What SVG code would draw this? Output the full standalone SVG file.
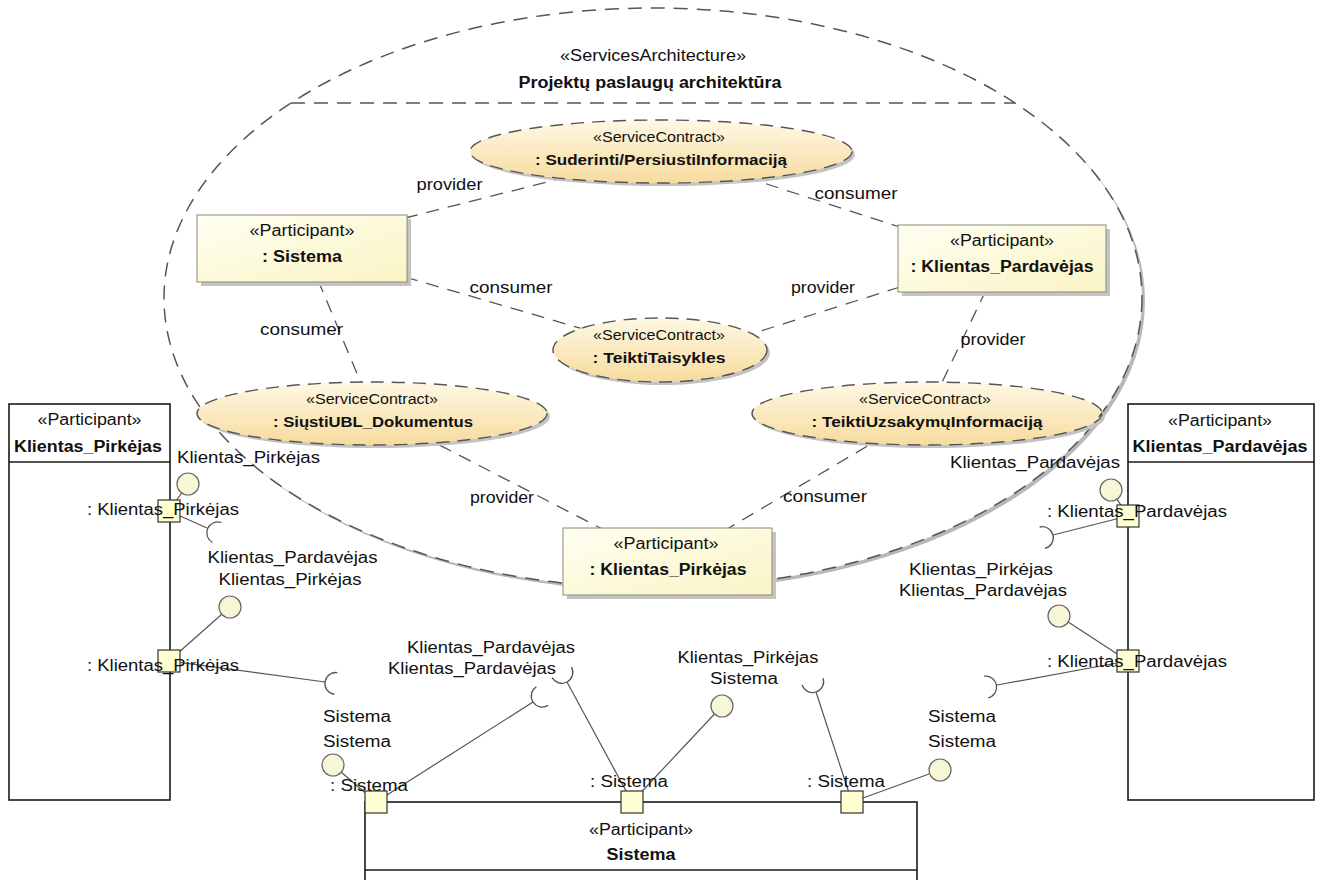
<svg xmlns="http://www.w3.org/2000/svg" width="1323" height="880" viewBox="0 0 1323 880">
  <defs>
    <linearGradient id="contractFill" x1="0" y1="0" x2="0" y2="1">
      <stop offset="0" stop-color="#FFF8E4"/>
      <stop offset="1" stop-color="#F6DB9E"/>
    </linearGradient>
    <linearGradient id="partFill" x1="0" y1="0" x2="1" y2="1">
      <stop offset="0" stop-color="#FFFFF2"/>
      <stop offset="1" stop-color="#FAF4C4"/>
    </linearGradient>
    <clipPath id="uzsakymuClip">
      <ellipse cx="927" cy="413.5" rx="175" ry="31.5"/>
    </clipPath>
  </defs>
  <style>
    text { font-family: "Liberation Sans", Arial, sans-serif; fill: #111; }
    .r { font-size: 16px; }
    .b { font-size: 16px; font-weight: bold; }
    .rs { font-size: 14px; }
    .bs { font-size: 14px; font-weight: bold; }
    .mid { text-anchor: middle; }
    .shadow { fill: #c4c4c4; }
    .contract { fill: url(#contractFill); stroke: #555; stroke-width: 1.4; stroke-dasharray: 13 8; }
    .part { fill: url(#partFill); stroke: #8a8a7a; stroke-width: 1; }
    .outer { fill: #fff; stroke: #1a1a1a; stroke-width: 1.6; }
    .frame { fill: none; stroke: #555; stroke-width: 1.5; stroke-dasharray: 14 9; }
    .role { fill: none; stroke: #555; stroke-width: 1.3; stroke-dasharray: 13 9; }
    .wire { fill: none; stroke: #555; stroke-width: 1.2; }
    .ball { fill: #F7F7D8; stroke: #666; stroke-width: 1.2; }
    .socket { fill: none; stroke: #555; stroke-width: 1.3; }
    .port { fill: #FFFFD2; stroke: #333; stroke-width: 1.2; }
  </style>

  <!-- services architecture collaboration -->
  <g id="projektu-paslaugu-architektura">
    <ellipse cx="656" cy="301" rx="489" ry="290" fill="#b8b8b8"/>
    <ellipse cx="653" cy="298" rx="489" ry="290" fill="#fff"/>
    <ellipse class="frame" cx="653" cy="298" rx="489" ry="290"/>
    <line class="frame" x1="291" y1="103" x2="1015" y2="103"/>
    <text class="r mid" x="653" y="61" textLength="186" lengthAdjust="spacingAndGlyphs">«ServicesArchitecture»</text>
    <text class="b mid" x="650" y="88" textLength="263" lengthAdjust="spacingAndGlyphs">Projektų paslaugų architektūra</text>
  </g>

  <!-- role bindings and port wiring -->
  <g id="connectors">
    <line class="role" x1="405" y1="218" x2="575" y2="175"/>
    <line class="role" x1="405" y1="277" x2="590" y2="331"/>
    <line class="role" x1="745" y1="177" x2="900" y2="227"/>
    <line class="role" x1="900" y1="287" x2="748" y2="335"/>
    <line class="role" x1="318" y1="280" x2="366" y2="395"/>
    <line class="role" x1="986" y1="290" x2="936" y2="395"/>
    <line class="role" x1="420" y1="435" x2="610" y2="533"/>
    <line class="role" x1="886" y1="435" x2="722" y2="532"/>
    <text class="r mid" x="449.5" y="190" textLength="66" lengthAdjust="spacingAndGlyphs">provider</text>
    <text class="r mid" x="511" y="293" textLength="83" lengthAdjust="spacingAndGlyphs">consumer</text>
    <text class="r mid" x="856" y="199" textLength="83" lengthAdjust="spacingAndGlyphs">consumer</text>
    <text class="r mid" x="823" y="293" textLength="64" lengthAdjust="spacingAndGlyphs">provider</text>
    <text class="r mid" x="301.5" y="335" textLength="83" lengthAdjust="spacingAndGlyphs">consumer</text>
    <text class="r mid" x="993" y="345" textLength="65" lengthAdjust="spacingAndGlyphs">provider</text>
    <text class="r mid" x="502" y="503" textLength="64" lengthAdjust="spacingAndGlyphs">provider</text>
    <text class="r mid" x="825" y="502" textLength="84" lengthAdjust="spacingAndGlyphs">consumer</text>

    <line class="wire" x1="169" y1="511" x2="181.7" y2="493"/>
    <line class="wire" x1="169" y1="511" x2="207" y2="528"/>
    <line class="wire" x1="169" y1="661" x2="221.8" y2="614.3"/>
    <line class="wire" x1="169" y1="661" x2="325" y2="682"/>
    <line class="wire" x1="1128" y1="516" x2="1117" y2="499.2"/>
    <line class="wire" x1="1128" y1="516" x2="1053" y2="535"/>
    <line class="wire" x1="1128" y1="661" x2="1068.2" y2="622"/>
    <line class="wire" x1="1128" y1="661" x2="997" y2="685"/>
    <line class="wire" x1="376" y1="802" x2="341.3" y2="772.2"/>
    <line class="wire" x1="376" y1="802" x2="533" y2="702"/>
    <line class="wire" x1="632" y1="802" x2="567" y2="682"/>
    <line class="wire" x1="632" y1="802" x2="714.5" y2="714"/>
    <line class="wire" x1="852" y1="802" x2="816" y2="692"/>
    <line class="wire" x1="852" y1="802" x2="929.7" y2="773.8"/>
  </g>

  <!-- service contracts -->
  <g id="suderinti-persiusti-informacija">
    <ellipse class="shadow" cx="664" cy="154.5" rx="191" ry="31.5"/>
    <ellipse class="contract" cx="661" cy="151.5" rx="191" ry="31.5"/>
    <text class="rs mid" x="659" y="141.5" textLength="132" lengthAdjust="spacingAndGlyphs">«ServiceContract»</text>
    <text class="bs mid" x="661" y="164.5" textLength="252" lengthAdjust="spacingAndGlyphs">: Suderinti/PersiustiInformaciją</text>
  </g>
  <g id="teikti-taisykles">
    <ellipse class="shadow" cx="663" cy="353" rx="107" ry="32"/>
    <ellipse class="contract" cx="660" cy="350" rx="107" ry="32"/>
    <text class="rs mid" x="659" y="340" textLength="132" lengthAdjust="spacingAndGlyphs">«ServiceContract»</text>
    <text class="bs mid" x="659" y="363" textLength="133" lengthAdjust="spacingAndGlyphs">: TeiktiTaisykles</text>
  </g>
  <g id="siusti-ubl-dokumentus">
    <ellipse class="shadow" cx="375" cy="416.5" rx="175" ry="31.5"/>
    <ellipse class="contract" cx="372" cy="413.5" rx="175" ry="31.5"/>
    <text class="rs mid" x="372" y="403.5" textLength="132" lengthAdjust="spacingAndGlyphs">«ServiceContract»</text>
    <text class="bs mid" x="373" y="426.5" textLength="200" lengthAdjust="spacingAndGlyphs">: SiųstiUBL_Dokumentus</text>
  </g>
  <g id="teikti-uzsakymu-informacija">
    <ellipse class="shadow" cx="930" cy="416.5" rx="175" ry="31.5"/>
    <ellipse class="contract" cx="927" cy="413.5" rx="175" ry="31.5"/>
    <text class="rs mid" x="925" y="403.5" textLength="132" lengthAdjust="spacingAndGlyphs">«ServiceContract»</text>
    <text class="bs mid" x="927" y="426.5" textLength="231" lengthAdjust="spacingAndGlyphs">: TeiktiUzsakymųInformaciją</text>
    <!-- architecture outline passing over the contract's right end -->
    <g clip-path="url(#uzsakymuClip)">
      <ellipse cx="655" cy="300" rx="489" ry="290" fill="none" stroke="#b0b0b0" stroke-width="2.5"/>
      <ellipse class="frame" cx="653" cy="298" rx="489" ry="290"/>
    </g>
  </g>

  <!-- participant parts inside the architecture -->
  <g id="part-sistema">
    <rect class="shadow" x="201" y="219" width="210" height="67"/>
    <rect class="part" x="197" y="215" width="210" height="67"/>
    <text class="r mid" x="302" y="236" textLength="105" lengthAdjust="spacingAndGlyphs">«Participant»</text>
    <text class="b mid" x="302" y="262" textLength="80" lengthAdjust="spacingAndGlyphs">: Sistema</text>
  </g>
  <g id="part-klientas-pardavejas">
    <rect class="shadow" x="902" y="229" width="208" height="67"/>
    <rect class="part" x="898" y="225" width="208" height="67"/>
    <text class="r mid" x="1002" y="246" textLength="104" lengthAdjust="spacingAndGlyphs">«Participant»</text>
    <text class="b mid" x="1002" y="272" textLength="183" lengthAdjust="spacingAndGlyphs">: Klientas_Pardavėjas</text>
  </g>
  <g id="part-klientas-pirkejas">
    <rect class="shadow" x="567" y="532" width="209" height="67"/>
    <rect class="part" x="563" y="528" width="209" height="67"/>
    <text class="r mid" x="666" y="549" textLength="105" lengthAdjust="spacingAndGlyphs">«Participant»</text>
    <text class="b mid" x="668" y="575" textLength="157" lengthAdjust="spacingAndGlyphs">: Klientas_Pirkėjas</text>
  </g>

  <!-- outer participants -->
  <g id="participant-klientas-pirkejas">
    <rect class="outer" x="9" y="404" width="161" height="396"/>
    <line stroke="#1a1a1a" stroke-width="1.6" x1="9" y1="462" x2="170" y2="462"/>
    <text class="r mid" x="89.5" y="425" textLength="104" lengthAdjust="spacingAndGlyphs">«Participant»</text>
    <text class="b mid" x="88" y="452" textLength="148" lengthAdjust="spacingAndGlyphs">Klientas_Pirkėjas</text>
  </g>
  <g id="participant-klientas-pardavejas">
    <rect class="outer" x="1128" y="404" width="186" height="396"/>
    <line stroke="#1a1a1a" stroke-width="1.6" x1="1128" y1="462" x2="1314" y2="462"/>
    <text class="r mid" x="1220" y="426" textLength="104" lengthAdjust="spacingAndGlyphs">«Participant»</text>
    <text class="b mid" x="1220" y="452" textLength="175" lengthAdjust="spacingAndGlyphs">Klientas_Pardavėjas</text>
  </g>
  <g id="participant-sistema">
    <rect class="outer" x="365" y="802" width="552" height="100"/>
    <line stroke="#1a1a1a" stroke-width="1.6" x1="365" y1="870" x2="917" y2="870"/>
    <text class="r mid" x="641" y="835" textLength="104" lengthAdjust="spacingAndGlyphs">«Participant»</text>
    <text class="b mid" x="641" y="860" textLength="69" lengthAdjust="spacingAndGlyphs">Sistema</text>
  </g>

  <!-- ports with provided (ball) and required (socket) interfaces -->
  <g id="port-pirkejas-1">
    <circle class="ball" cx="188" cy="484" r="11"/>
    <path class="socket" d="M212.5,542.5 A11,11 0 0 1 221.5,522.5"/>
    <rect class="port" x="158" y="500" width="22" height="22"/>
    <text class="r" x="177" y="463" textLength="143" lengthAdjust="spacingAndGlyphs">Klientas_Pirkėjas</text>
    <text class="r" x="87" y="515" textLength="152" lengthAdjust="spacingAndGlyphs">: Klientas_Pirkėjas</text>
  </g>
  <g id="port-pirkejas-2">
    <circle class="ball" cx="230" cy="607" r="11"/>
    <path class="socket" d="M334.4,694.4 A11,11 0 0 1 337.4,672.6"/>
    <rect class="port" x="158" y="650" width="22" height="22"/>
    <text class="r mid" x="292.5" y="563" textLength="170" lengthAdjust="spacingAndGlyphs">Klientas_Pardavėjas</text>
    <text class="r mid" x="290" y="585" textLength="143" lengthAdjust="spacingAndGlyphs">Klientas_Pirkėjas</text>
    <text class="r" x="87" y="671" textLength="152" lengthAdjust="spacingAndGlyphs">: Klientas_Pirkėjas</text>
  </g>
  <g id="port-pardavejas-1">
    <circle class="ball" cx="1111" cy="490" r="11"/>
    <path class="socket" d="M1039.6,527 A11,11 0 0 1 1045,548.4"/>
    <rect class="port" x="1117" y="505" width="22" height="22"/>
    <text class="r" x="950" y="468" textLength="170" lengthAdjust="spacingAndGlyphs">Klientas_Pardavėjas</text>
    <text class="r" x="1047" y="517" textLength="180" lengthAdjust="spacingAndGlyphs">: Klientas_Pardavėjas</text>
  </g>
  <g id="port-pardavejas-2">
    <circle class="ball" cx="1059" cy="616" r="11"/>
    <path class="socket" d="M984.2,676.2 A11,11 0 0 1 988.2,697.8"/>
    <rect class="port" x="1117" y="650" width="22" height="22"/>
    <text class="r mid" x="981" y="575" textLength="144" lengthAdjust="spacingAndGlyphs">Klientas_Pirkėjas</text>
    <text class="r mid" x="983" y="596" textLength="168" lengthAdjust="spacingAndGlyphs">Klientas_Pardavėjas</text>
    <text class="r" x="1047" y="667" textLength="180" lengthAdjust="spacingAndGlyphs">: Klientas_Pardavėjas</text>
  </g>
  <g id="port-sistema-1">
    <circle class="ball" cx="333" cy="765" r="11"/>
    <path class="socket" d="M548.2,705.4 A11,11 0 0 1 536.4,686.8"/>
    <rect class="port" x="365" y="791" width="22" height="22"/>
    <text class="r mid" x="357" y="722" textLength="68" lengthAdjust="spacingAndGlyphs">Sistema</text>
    <text class="r mid" x="357" y="747" textLength="68" lengthAdjust="spacingAndGlyphs">Sistema</text>
    <text class="r" x="330" y="791" textLength="78" lengthAdjust="spacingAndGlyphs">: Sistema</text>
  </g>
  <g id="port-sistema-2">
    <path class="socket" d="M571.5,667.1 A11,11 0 0 1 552.1,677.5"/>
    <circle class="ball" cx="722" cy="706" r="11"/>
    <rect class="port" x="621" y="791" width="22" height="22"/>
    <text class="r mid" x="491" y="653" textLength="168" lengthAdjust="spacingAndGlyphs">Klientas_Pardavėjas</text>
    <text class="r mid" x="472" y="674" textLength="168" lengthAdjust="spacingAndGlyphs">Klientas_Pardavėjas</text>
    <text class="r mid" x="748" y="663" textLength="141" lengthAdjust="spacingAndGlyphs">Klientas_Pirkėjas</text>
    <text class="r mid" x="744" y="684" textLength="68" lengthAdjust="spacingAndGlyphs">Sistema</text>
    <text class="r" x="590" y="787" textLength="78" lengthAdjust="spacingAndGlyphs">: Sistema</text>
  </g>
  <g id="port-sistema-3">
    <path class="socket" d="M823.1,678.1 A11,11 0 0 1 802.1,684.9"/>
    <circle class="ball" cx="940" cy="770" r="11"/>
    <rect class="port" x="841" y="791" width="22" height="22"/>
    <text class="r mid" x="962" y="722" textLength="68" lengthAdjust="spacingAndGlyphs">Sistema</text>
    <text class="r mid" x="962" y="747" textLength="68" lengthAdjust="spacingAndGlyphs">Sistema</text>
    <text class="r" x="807" y="787" textLength="78" lengthAdjust="spacingAndGlyphs">: Sistema</text>
  </g>
</svg>
